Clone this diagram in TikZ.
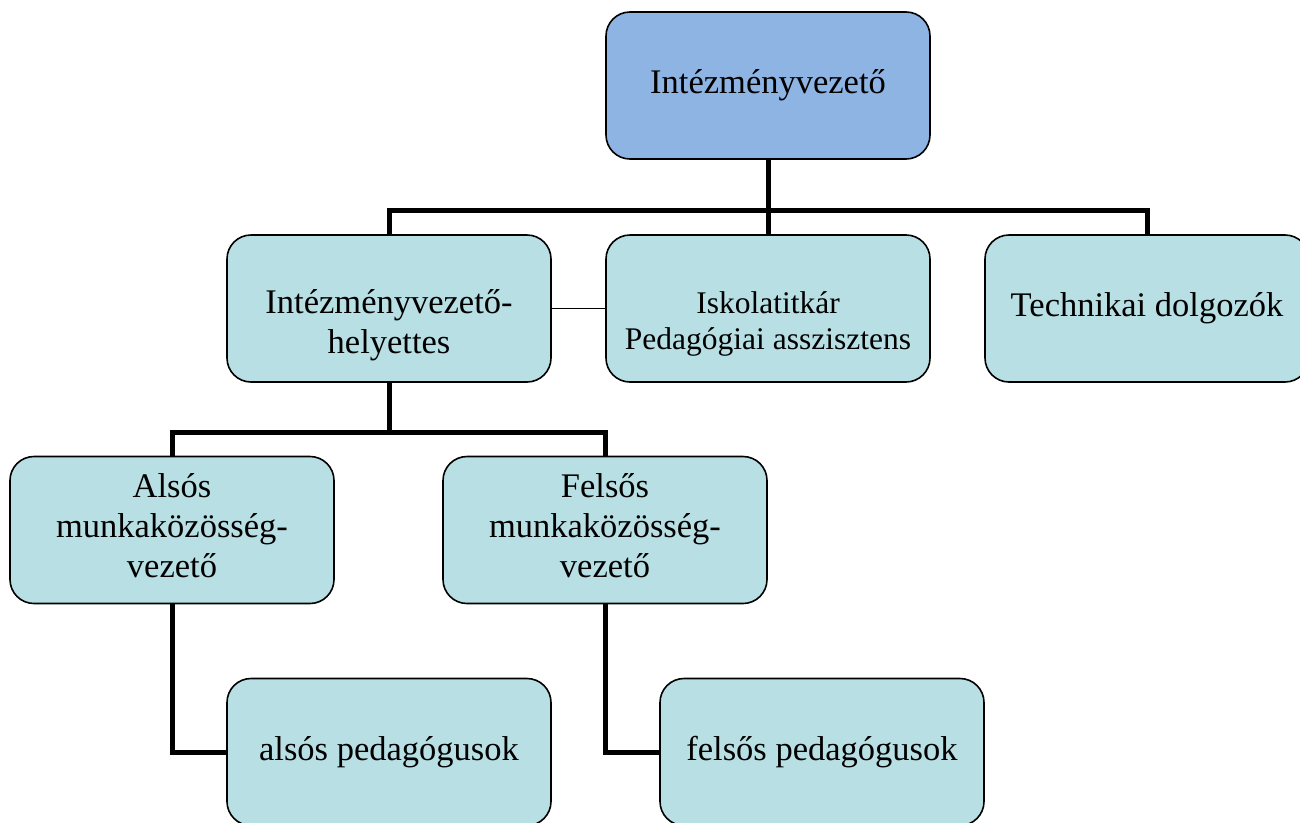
\documentclass[tikz,border=0pt]{standalone}
\usepackage{fontspec}
\setmainfont{Liberation Serif}
\definecolor{topblue}{HTML}{8EB4E3}
\definecolor{boxteal}{HTML}{B8DFE3}
\begin{document}
\begin{tikzpicture}[x=1pt,y=-1pt,
  orgbox/.style={draw=black, line width=1.6pt, rounded corners=24pt, fill=boxteal,
    minimum width=324pt, minimum height=147pt, align=center, inner sep=0pt,
    font=\fontsize{34.5}{40}\selectfont},
  orgtext/.style={align=center, inner sep=0pt, font=\fontsize{34.5}{40}\selectfont},
  smalltext/.style={align=center, inner sep=0pt, font=\fontsize{31.5}{36}\selectfont},
  conn/.style={line width=5pt, line join=miter, draw=black},
  thin/.style={line width=1pt, draw=black}]
\useasboundingbox (0,0) rectangle (1300,822);
\node[orgbox, fill=topblue] (top) at (768,85.5) {Intézményvezető};
\node[orgbox] (help) at (389,308.5) {};
\node[orgtext] (helpT) at (389,325) {Intézményvezető-\\helyettes};
\node[orgbox] (isk) at (768,308.5) {};
\node[smalltext] (iskT) at (768,324) {Iskolatitkár\\Pedagógiai asszisztens};
\node[orgbox] (tech) at (1147,308.5) {Technikai dolgozók};
\node[orgbox] (als) at (172,530) {};
\node[orgtext] (alsT) at (172,526) {Alsós\\munkaközösség-\\vezető};
\node[orgbox] (fel) at (605,530) {};
\node[orgtext] (felT) at (605,526) {Felsős\\munkaközösség-\\vezető};
\node[orgbox] (alp) at (389,752) {alsós pedagógusok};
\node[orgbox] (fep) at (822,752) {felsős pedagógusok};
\coordinate (bus1) at (768,210);
\coordinate (bus2) at (389,432);
\draw[conn] (top.south) -- (isk.north);
\draw[conn] (help.north) |- (bus1) -| (tech.north);
\draw[conn] (help.south) -- (bus2);
\draw[conn] (als.north) |- (bus2) -| (fel.north);
\draw[conn] (als.south) |- (alp.west);
\draw[conn] (fel.south) |- (fep.west);
\draw[thin] (help.east) -- (isk.west);
\end{tikzpicture}
\end{document}
